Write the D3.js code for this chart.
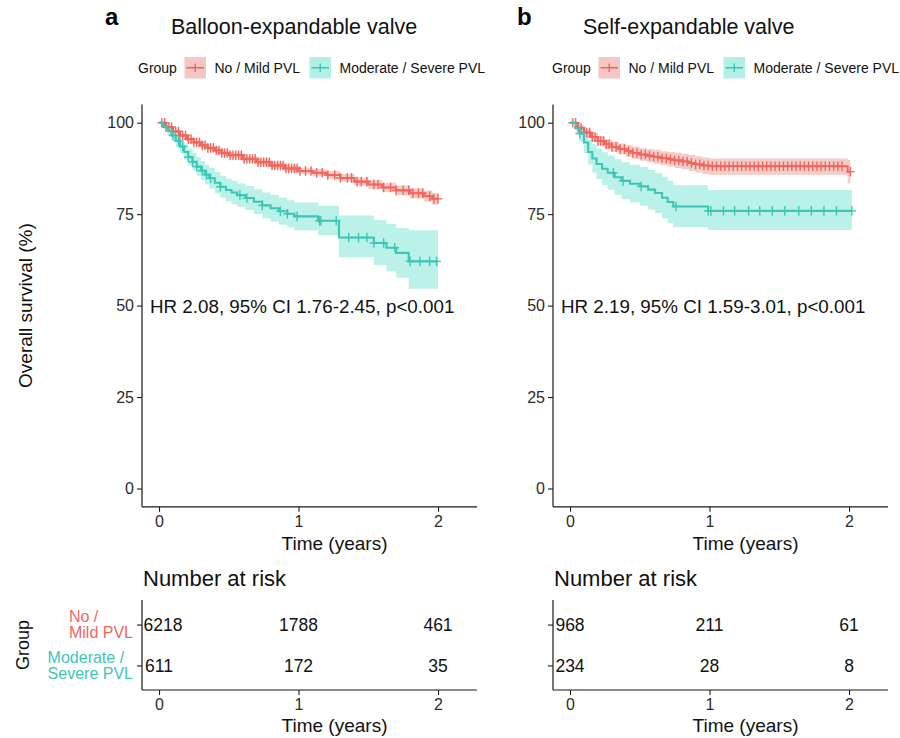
<!DOCTYPE html>
<html>
<head>
<meta charset="utf-8">
<script src="https://cdn.jsdelivr.net/npm/d3@7"></script>
<style>
  body { margin: 0; background: #fff; }
  svg { display: block; }
  text { font-family: "Liberation Sans", Arial, sans-serif; }
</style>
</head>
<body>
<svg id="chart" width="900" height="738"></svg>
<script>
// ---------- data ----------
const groups = ["No / Mild PVL", "Moderate / Severe PVL"];
const groupLines = [["No /", "Mild PVL"], ["Moderate /", "Severe PVL"]];
const timeTicks = [0, 1, 2];
const survTicks = [0, 25, 50, 75, 100];
const panelLetters = ["a", "b"];
const panelTitles = ["Balloon-expandable valve", "Self-expandable valve"];
const hrLabels = ["HR 2.08, 95% CI 1.76-2.45, p<0.001", "HR 2.19, 95% CI 1.59-3.01, p<0.001"];

// Balloon-expandable, No / Mild PVL
const beMildTime  = [0, 0.05, 0.1, 0.15, 0.2, 0.25, 0.3, 0.35, 0.4, 0.45, 0.5, 0.6, 0.7, 0.8, 0.9, 1.0, 1.1, 1.2, 1.3, 1.4, 1.5, 1.6, 1.7, 1.8, 1.9, 1.96];
const beMildSurv  = [100, 98.8, 97.6, 96.5, 95.5, 94.6, 93.8, 93.1, 92.4, 91.7, 91.1, 90.1, 89.2, 88.3, 87.5, 86.8, 86.3, 85.7, 84.9, 83.9, 83.1, 82.3, 81.5, 80.7, 79.9, 79.2];
const beMildLower = [100, 98.5, 97.2, 96.05, 95.0, 94.05, 93.2, 92.5, 91.75, 91.0, 90.4, 89.35, 88.4, 87.45, 86.65, 85.9, 85.35, 84.7, 83.85, 82.8, 81.9, 81.05, 80.2, 79.3, 78.4, 77.6];
const beMildUpper = [100, 99.1, 98.0, 96.95, 96.0, 95.15, 94.4, 93.7, 93.05, 92.4, 91.8, 90.85, 90.0, 89.15, 88.35, 87.7, 87.25, 86.7, 85.95, 85.0, 84.3, 83.55, 82.8, 82.1, 81.4, 80.8];
const beMildEnd = 2.0;
const beMildCensor = [0.02, 0.04, 0.05, 0.07, 0.09, 0.1, 0.12, 0.14, 0.15, 0.17, 0.19, 0.21, 0.23, 0.25, 0.27, 0.29, 0.31, 0.33, 0.35, 0.37, 0.39, 0.41, 0.43, 0.45, 0.47, 0.49, 0.51, 0.53, 0.55, 0.57, 0.59, 0.61, 0.63, 0.65, 0.67, 0.69, 0.71, 0.73, 0.75, 0.77, 0.79, 0.81, 0.83, 0.85, 0.87, 0.89, 0.91, 0.93, 0.95, 0.97, 0.99, 1.01, 1.05, 1.09, 1.13, 1.17, 1.21, 1.26, 1.30, 1.35, 1.38, 1.42, 1.45, 1.49, 1.54, 1.57, 1.61, 1.66, 1.70, 1.75, 1.79, 1.82, 1.86, 1.89, 1.94, 1.97, 2.0];

// Balloon-expandable, Moderate / Severe PVL
const beSevTime  = [0, 0.03, 0.06, 0.09, 0.12, 0.15, 0.18, 0.21, 0.24, 0.27, 0.30, 0.33, 0.36, 0.40, 0.44, 0.48, 0.52, 0.56, 0.62, 0.68, 0.74, 0.80, 0.86, 0.92, 0.97, 1.14, 1.29, 1.54, 1.63, 1.70, 1.79];
const beSevSurv  = [100, 99.0, 97.8, 96.5, 95.0, 93.5, 92.0, 90.6, 89.3, 88.0, 86.9, 85.8, 84.8, 83.6, 82.5, 81.6, 80.9, 80.2, 79.4, 78.4, 77.4, 76.6, 75.8, 75.1, 74.4, 73.2, 68.6, 67.1, 65.8, 64.4, 62.1];
const beSevLower = [100, 98.2, 96.6, 95.0, 93.3, 91.6, 89.9, 88.3, 86.9, 85.5, 84.3, 83.1, 82.0, 80.7, 79.5, 78.5, 77.7, 77.0, 76.1, 75.0, 73.9, 73.0, 72.1, 71.4, 70.6, 69.2, 63.2, 61.1, 59.3, 57.6, 54.6];
const beSevUpper = [100, 99.8, 99.0, 98.0, 96.7, 95.4, 94.1, 92.9, 91.7, 90.5, 89.5, 88.5, 87.6, 86.5, 85.5, 84.7, 84.1, 83.4, 82.7, 81.8, 80.9, 80.2, 79.5, 78.8, 78.2, 77.3, 74.6, 73.4, 72.3, 71.2, 70.6];
const beSevEnd = 2.0;
const beSevCensor = [0.1, 0.14, 0.17, 0.21, 0.24, 0.27, 0.31, 0.34, 0.37, 0.44, 0.58, 0.63, 0.74, 0.87, 0.92, 0.99, 1.15, 1.16, 1.27, 1.36, 1.43, 1.49, 1.54, 1.61, 1.69, 1.80, 1.87, 1.94, 1.99];

// Self-expandable, No / Mild PVL
const seMildTime  = [0, 0.05, 0.1, 0.15, 0.2, 0.25, 0.3, 0.35, 0.4, 0.45, 0.5, 0.55, 0.6, 0.65, 0.7, 0.75, 0.8, 0.85, 0.9, 0.95, 1.0, 1.99];
const seMildSurv  = [100, 98.6, 97.3, 96.1, 95.0, 94.1, 93.4, 92.8, 92.2, 91.7, 91.3, 91.0, 90.7, 90.3, 90.0, 89.7, 89.4, 89.0, 88.6, 88.3, 88.1, 86.6];
const seMildLower = [100, 97.9, 96.4, 95.0, 93.8, 92.8, 92.0, 91.3, 90.6, 90.0, 89.6, 89.2, 88.8, 88.4, 88.0, 87.6, 87.3, 86.8, 86.4, 86.0, 85.8, 83.4];
const seMildUpper = [100, 99.3, 98.2, 97.2, 96.2, 95.4, 94.8, 94.3, 93.8, 93.4, 93.0, 92.8, 92.6, 92.2, 92.0, 91.8, 91.5, 91.2, 90.8, 90.5, 90.2, 89.8];
const seMildEnd = 2.01;
const seMildCensor = [0.02, 0.04, 0.06, 0.08, 0.1, 0.12, 0.14, 0.16, 0.18, 0.2, 0.22, 0.24, 0.26, 0.28, 0.3, 0.33, 0.36, 0.39, 0.42, 0.45, 0.48, 0.51, 0.54, 0.57, 0.6, 0.63, 0.66, 0.69, 0.72, 0.75, 0.78, 0.81, 0.84, 0.87, 0.9, 0.93, 0.96, 0.99, 1.02, 1.05, 1.08, 1.11, 1.14, 1.17, 1.2, 1.23, 1.26, 1.29, 1.32, 1.35, 1.38, 1.41, 1.44, 1.47, 1.5, 1.53, 1.56, 1.59, 1.62, 1.65, 1.68, 1.71, 1.74, 1.77, 1.8, 1.83, 1.86, 1.89, 1.92, 1.95, 2.01];

// Self-expandable, Moderate / Severe PVL
const seSevTime  = [0, 0.04, 0.07, 0.10, 0.13, 0.16, 0.19, 0.23, 0.27, 0.32, 0.37, 0.43, 0.50, 0.56, 0.61, 0.66, 0.70, 0.74, 0.99];
const seSevSurv  = [100, 98.5, 97.0, 94.6, 92.0, 90.2, 88.7, 87.4, 86.3, 85.1, 84.1, 83.3, 82.6, 81.7, 80.8, 79.5, 78.3, 77.1, 75.9];
const seSevLower = [100, 96.9, 94.8, 91.7, 88.6, 86.4, 84.6, 83.0, 81.7, 80.3, 79.1, 78.2, 77.3, 76.3, 75.3, 73.8, 72.5, 71.4, 70.7];
const seSevUpper = [100, 100, 99.3, 97.6, 95.5, 94.1, 92.9, 91.9, 91.0, 90.0, 89.2, 88.5, 87.9, 87.1, 86.3, 85.2, 84.1, 82.9, 81.6];
const seSevEnd = 2.02;
const seSevCensor = [0.07, 0.31, 0.38, 0.51, 0.76, 0.99, 1.01, 1.1, 1.18, 1.28, 1.36, 1.45, 1.54, 1.64, 1.73, 1.82, 1.91, 2.02];

// Number at risk at years 0, 1, 2
const beRiskMild = [6218, 1788, 461];
const beRiskSev  = [611, 172, 35];
const seRiskMild = [968, 211, 61];
const seRiskSev  = [234, 28, 8];

// ---------- styling ----------
const lineColors = ["#F0675E", "#3EC6B4"];
const bandColors = ["#F5C6C3", "#B2EFE7"];
const axisColor = "#1a1a1a";
const tickTextColor = "#2b2b2b";

const svg = d3.select("#chart");

const panels = [
  {
    left: 142, letterX: 105, titleX: 171, legendX: 138, hrX: 150, showGroupLabels: true,
    series: [
      { time: beMildTime, surv: beMildSurv, lower: beMildLower, upper: beMildUpper, end: beMildEnd, censor: beMildCensor },
      { time: beSevTime, surv: beSevSurv, lower: beSevLower, upper: beSevUpper, end: beSevEnd, censor: beSevCensor }
    ],
    risk: [beRiskMild, beRiskSev]
  },
  {
    left: 553, letterX: 517, titleX: 583, legendX: 552, hrX: 561, showGroupLabels: false,
    series: [
      { time: seMildTime, surv: seMildSurv, lower: seMildLower, upper: seMildUpper, end: seMildEnd, censor: seMildCensor },
      { time: seSevTime, surv: seSevSurv, lower: seSevLower, upper: seSevUpper, end: seSevEnd, censor: seSevCensor }
    ],
    risk: [seRiskMild, seRiskSev]
  }
];

const pxPerYear = 139.5;
const xDomain = [-0.122, 2.28];
const yScale = d3.scaleLinear().domain([-5, 105]).range([506.8, 104.4]);
const riskTop = 600, riskBottom = 690;

function styleAxis(a) {
  a.select(".domain").attr("stroke", axisColor).attr("stroke-width", 1.2);
  a.selectAll(".tick line").attr("stroke", axisColor).attr("stroke-width", 1.1);
  a.selectAll(".tick text").attr("font-size", 16).attr("fill", tickTextColor)
    .attr("font-family", "Liberation Sans, Arial, sans-serif");
}

panels.forEach((p, pi) => {
  const right = p.left + (xDomain[1] - xDomain[0]) * pxPerYear;
  const x = d3.scaleLinear().domain(xDomain).range([p.left, right]);
  const g = svg.append("g");

  // panel letter and title
  g.append("text").attr("x", p.letterX).attr("y", 25)
    .attr("font-size", 24).attr("font-weight", "bold").attr("fill", "#000")
    .text(panelLetters[pi]);
  g.append("text").attr("x", p.titleX).attr("y", 34)
    .attr("font-size", 21.5).attr("fill", "#111")
    .text(panelTitles[pi]);

  // legend
  const lg = g.append("g").attr("transform", `translate(${p.legendX},0)`);
  lg.append("text").attr("x", 0).attr("y", 73).attr("font-size", 14).attr("fill", "#111").text("Group");
  const keyOffsets = [46.5, 171.5];
  groups.forEach((name, gi) => {
    const kx = keyOffsets[gi];
    lg.append("rect").attr("x", kx).attr("y", 57).attr("width", 21.5).attr("height", 21.5)
      .attr("fill", bandColors[gi]);
    lg.append("line").attr("x1", kx + 2).attr("x2", kx + 19.5).attr("y1", 67.75).attr("y2", 67.75)
      .attr("stroke", lineColors[gi]).attr("stroke-width", 1.6);
    lg.append("line").attr("x1", kx + 10.75).attr("x2", kx + 10.75).attr("y1", 63.5).attr("y2", 72)
      .attr("stroke", lineColors[gi]).attr("stroke-width", 1.4);
    lg.append("text").attr("x", kx + 30).attr("y", 73).attr("font-size", 14).attr("fill", "#111").text(name);
  });

  // survival bands, curves and censor marks
  const plot = g.append("g");
  p.series.forEach((s, si) => {
    const pts = s.time.map((t, i) => ({ t, lo: s.lower[i], hi: s.upper[i] }));
    const last = pts[pts.length - 1];
    pts.push({ t: s.end, lo: last.lo, hi: last.hi });
    plot.append("path").datum(pts)
      .attr("fill", bandColors[si]).attr("opacity", 0.9)
      .attr("d", d3.area().curve(d3.curveStepAfter)
        .x(d => x(d.t)).y0(d => yScale(d.lo)).y1(d => yScale(d.hi)));
  });
  p.series.forEach((s, si) => {
    const pts = s.time.map((t, i) => ({ t, s: s.surv[i] }));
    pts.push({ t: s.end, s: s.surv[s.surv.length - 1] });
    plot.append("path").datum(pts)
      .attr("fill", "none").attr("stroke", lineColors[si]).attr("stroke-width", 2.1)
      .attr("d", d3.line().curve(d3.curveStepAfter).x(d => x(d.t)).y(d => yScale(d.s)));

    const stepValue = t => s.surv[Math.max(0, d3.bisectRight(s.time, t) - 1)];
    const cg = plot.append("g").attr("stroke", lineColors[si]).attr("stroke-width", 1.4);
    s.censor.forEach(c => {
      const cx = x(c), cy = yScale(stepValue(c));
      cg.append("line").attr("x1", cx - 4.3).attr("x2", cx + 4.3).attr("y1", cy).attr("y2", cy);
      cg.append("line").attr("x1", cx).attr("x2", cx).attr("y1", cy - 4.8).attr("y2", cy + 4.8);
    });
  });

  // axes of the survival plot
  const xAxis = g.append("g").attr("transform", `translate(0,${yScale.range()[0]})`)
    .call(d3.axisBottom(x).tickValues(timeTicks).tickSize(5).tickPadding(4).tickFormat(d3.format("d")));
  const yAxis = g.append("g").attr("transform", `translate(${p.left},0)`)
    .call(d3.axisLeft(yScale).tickValues(survTicks).tickSize(5).tickPadding(3));
  styleAxis(xAxis); styleAxis(yAxis);
  xAxis.select(".domain").attr("d", `M${p.left},0H${right}`);
  yAxis.select(".domain").attr("d", `M0,${yScale.range()[0]}V${yScale.range()[1]}`);

  g.append("text").attr("x", x(1) + 36).attr("y", 550).attr("text-anchor", "middle")
    .attr("font-size", 19).attr("fill", "#111").text("Time (years)");

  // hazard ratio annotation
  g.append("text").attr("x", p.hrX).attr("y", 313).attr("font-size", 18.8).attr("fill", "#111")
    .text(hrLabels[pi]);

  // number-at-risk table
  g.append("text").attr("x", p.left + 1).attr("y", 586).attr("font-size", 22).attr("fill", "#111")
    .text("Number at risk");
  const rowScale = d3.scalePoint().domain(groups).range([riskTop, riskBottom]).padding(0.6);
  const rx = g.append("g").attr("transform", `translate(0,${riskBottom})`)
    .call(d3.axisBottom(x).tickValues(timeTicks).tickSize(5).tickPadding(4).tickFormat(d3.format("d")));
  const ry = g.append("g").attr("transform", `translate(${p.left},0)`)
    .call(d3.axisLeft(rowScale).tickSize(5).tickFormat(""));
  styleAxis(rx); styleAxis(ry);
  rx.select(".domain").attr("d", `M${p.left},0H${right}`);
  ry.select(".domain").attr("d", `M0,${riskBottom}V${riskTop}`);

  groups.forEach((name, gi) => {
    p.risk[gi].forEach((n, ti) => {
      const t = g.append("text").attr("x", x(timeTicks[ti])).attr("y", rowScale(name)).attr("dy", "0.36em")
        .attr("text-anchor", "middle").attr("font-size", 17.5).attr("fill", "#111").text(n);
      // keep counts clear of the table's left axis
      const w = t.node().getComputedTextLength();
      if (x(timeTicks[ti]) - w / 2 < p.left + 1.5) {
        t.attr("text-anchor", "start").attr("x", p.left + 1.5);
      }
    });
  });

  g.append("text").attr("x", x(1) + 36).attr("y", 732).attr("text-anchor", "middle")
    .attr("font-size", 19).attr("fill", "#111").text("Time (years)");

  // colored group labels beside the table, lines left-aligned within a right-aligned block
  if (p.showGroupLabels) {
    groupLines.forEach((lines, gi) => {
      const cy = rowScale(groups[gi]);
      const labels = lines.map((ln, li) =>
        g.append("text").attr("y", cy - 2.5 + li * 16).attr("font-size", 16)
          .attr("fill", lineColors[gi]).text(ln));
      const w = d3.max(labels, l => l.node().getComputedTextLength());
      labels.forEach(l => l.attr("x", p.left - 9 - w));
    });
    g.append("text").attr("transform", `translate(29,${(riskTop + riskBottom) / 2}) rotate(-90)`)
      .attr("text-anchor", "middle").attr("font-size", 18).attr("fill", "#111").text("Group");
    g.append("text").attr("transform", `translate(32,${yScale(50)}) rotate(-90)`)
      .attr("text-anchor", "middle").attr("font-size", 19).attr("fill", "#111").text("Overall survival (%)");
  }
});
</script>
</body>
</html>
